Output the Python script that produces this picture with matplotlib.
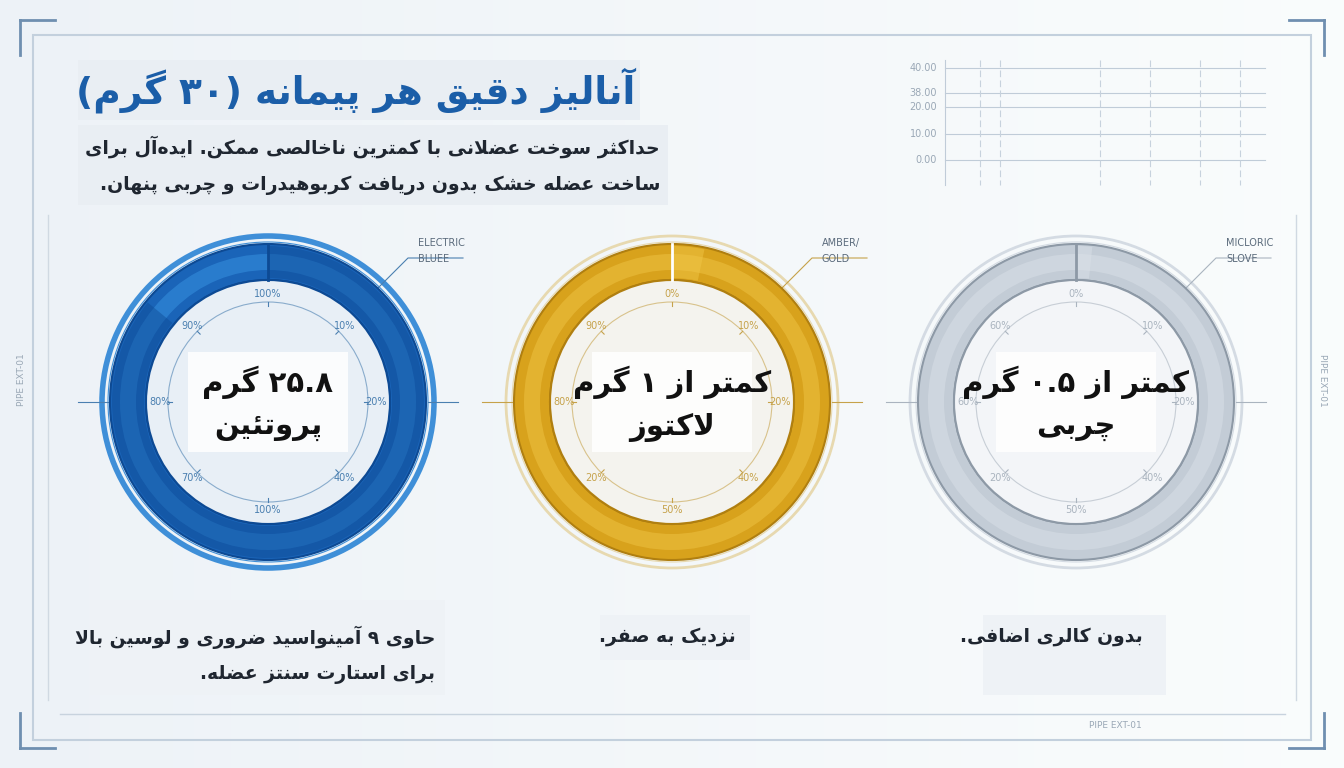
import matplotlib
matplotlib.use("Agg")
import matplotlib.pyplot as plt
from matplotlib.patches import Wedge, Circle, Rectangle
import numpy as np

# ---------------- data ----------------
title = "آنالیز دقیق هر پیمانه (۳۰ گرم)"
subtitle = ["حداکثر سوخت عضلانی با کمترین ناخالصی ممکن. ایده‌آل برای",
            "ساخت عضله خشک بدون دریافت کربوهیدرات و چربی پنهان."]
serving_g = 30.0
nutrients = ["پروتئین", "لاکتوز", "چربی"]
amounts_g = [25.8, 1.0, 0.5]
center_line1 = ["۲۵.۸ گرم", "کمتر از ۱ گرم", "کمتر از ۰.۵ گرم"]
captions = [["حاوی ۹ آمینواسید ضروری و لوسین بالا", "برای استارت سنتز عضله."],
            ["نزدیک به صفر."], ["بدون کالری اضافی."]]
legend_labels = [["ELECTRIC", "BLUEE"], ["AMBER/", "GOLD"], ["MICLORIC", "SLOVE"]]
tick_labels = [["100%", "10%", "20%", "40%", "100%", "70%", "80%", "90%"],
               ["0%", "10%", "20%", "40%", "50%", "20%", "80%", "90%"],
               ["0%", "10%", "20%", "40%", "50%", "20%", "60%", "60%"]]
mini_ticks = ["40.00", "38.00", "20.00", "10.00", "0.00"]

# ---------------- simple Persian shaping ----------------
F = {
 'ا': (0xFE8D, 0xFE8E, None, None), 'آ': (0xFE81, 0xFE82, None, None),
 'ب': (0xFE8F, 0xFE90, 0xFE91, 0xFE92), 'پ': (0xFB56, 0xFB57, 0xFB58, 0xFB59),
 'ت': (0xFE95, 0xFE96, 0xFE97, 0xFE98), 'ث': (0xFE99, 0xFE9A, 0xFE9B, 0xFE9C),
 'ج': (0xFE9D, 0xFE9E, 0xFE9F, 0xFEA0), 'چ': (0xFB7A, 0xFB7B, 0xFB7C, 0xFB7D),
 'ح': (0xFEA1, 0xFEA2, 0xFEA3, 0xFEA4), 'خ': (0xFEA5, 0xFEA6, 0xFEA7, 0xFEA8),
 'د': (0xFEA9, 0xFEAA, None, None), 'ذ': (0xFEAB, 0xFEAC, None, None),
 'ر': (0xFEAD, 0xFEAE, None, None), 'ز': (0xFEAF, 0xFEB0, None, None),
 'ژ': (0xFB8A, 0xFB8B, None, None),
 'س': (0xFEB1, 0xFEB2, 0xFEB3, 0xFEB4), 'ش': (0xFEB5, 0xFEB6, 0xFEB7, 0xFEB8),
 'ص': (0xFEB9, 0xFEBA, 0xFEBB, 0xFEBC), 'ض': (0xFEBD, 0xFEBE, 0xFEBF, 0xFEC0),
 'ط': (0xFEC1, 0xFEC2, 0xFEC3, 0xFEC4), 'ظ': (0xFEC5, 0xFEC6, 0xFEC7, 0xFEC8),
 'ع': (0xFEC9, 0xFECA, 0xFECB, 0xFECC), 'غ': (0xFECD, 0xFECE, 0xFECF, 0xFED0),
 'ف': (0xFED1, 0xFED2, 0xFED3, 0xFED4), 'ق': (0xFED5, 0xFED6, 0xFED7, 0xFED8),
 'ک': (0xFB8E, 0xFB8F, 0xFB90, 0xFB91), 'گ': (0xFB92, 0xFB93, 0xFB94, 0xFB95),
 'ل': (0xFEDD, 0xFEDE, 0xFEDF, 0xFEE0), 'م': (0xFEE1, 0xFEE2, 0xFEE3, 0xFEE4),
 'ن': (0xFEE5, 0xFEE6, 0xFEE7, 0xFEE8), 'و': (0xFEED, 0xFEEE, None, None),
 'ه': (0xFEE9, 0xFEEA, 0xFEEB, 0xFEEC), 'ی': (0xFBFC, 0xFBFD, 0xFBFE, 0xFBFF),
 'ئ': (0xFE89, 0xFE8A, 0xFE8B, 0xFE8C),
}

def shape(s):
    s = s.replace('\u200c', '\u0001')
    out = []
    n = len(s)
    i = 0
    while i < n:
        c = s[i]
        if c not in F:
            out.append('\u200b' if c == '\u0001' else c); i += 1; continue
        prev = s[i-1] if i > 0 else ''
        joins_prev = prev in F and F[prev][2] is not None
        if c == 'ل' and i + 1 < n and s[i+1] in ('ا', 'آ'):
            if s[i+1] == 'ا':
                out.append(chr(0xFEFC if joins_prev else 0xFEFB))
            else:
                out.append(chr(0xFEF6 if joins_prev else 0xFEF5))
            i += 2; continue
        nxt = s[i+1] if i + 1 < n else ''
        joins_next = F[c][2] is not None and nxt in F
        iso, fin, ini, med = F[c]
        if joins_prev and joins_next: g = med
        elif joins_prev: g = fin
        elif joins_next: g = ini
        else: g = iso
        out.append(chr(g)); i += 1
    shaped = ''.join(out).replace('\u200b', '')
    rev = shaped[::-1]
    mirror = {'(': ')', ')': '('}
    rev = ''.join(mirror.get(ch, ch) for ch in rev)
    res, run = [], []
    for ch in rev:
        if ch.isdigit() or ('\u06F0' <= ch <= '\u06F9') or (ch == '.' and run):
            run.append(ch)
        else:
            if run:
                res.extend(run[::-1]); run = []
            res.append(ch)
    if run: res.extend(run[::-1])
    return ''.join(res)

# ---------------- figure ----------------
plt.rcParams['font.family'] = ['DejaVu Sans']
W, H = 1344, 768
fig = plt.figure(figsize=(13.44, 7.68), dpi=100)
ax = fig.add_axes([0, 0, 1, 1])
ax.set_xlim(0, W); ax.set_ylim(0, H); ax.axis('off')
Y = lambda y: H - y

grad = np.linspace(0, 1, 256)
img = np.dstack([0.93 + 0.05*grad, 0.95 + 0.04*grad, 0.97 + 0.02*grad]).repeat(2, 0)
ax.imshow(img, extent=[0, W, 0, H], aspect='auto', zorder=0)

ax.add_patch(Rectangle((33, Y(740)), 1278, 705, fill=False, ec='#c3d0dd', lw=1.5, zorder=1))
for (x0, y0, dx, dy) in [(20, 20, 1, 1), (1324, 20, -1, 1), (20, 748, 1, -1), (1324, 748, -1, -1)]:
    ax.plot([x0, x0 + 35*dx], [Y(y0), Y(y0)], color='#6f8fb0', lw=2, zorder=2)
    ax.plot([x0, x0], [Y(y0), Y(y0 + 35*dy)], color='#6f8fb0', lw=2, zorder=2)
ax.plot([60, 1285], [Y(714), Y(714)], color='#c8d3de', lw=1, zorder=1)
ax.text(1115, Y(725), "PIPE EXT-01", fontsize=6.5, color='#9aa8b6', ha='center', va='center')
ax.text(22, Y(380), "PIPE EXT-01", fontsize=6.5, color='#9aa8b6', rotation=90, ha='center', va='center')
ax.text(1322, Y(380), "PIPE EXT-01", fontsize=6.5, color='#9aa8b6', rotation=270, ha='center', va='center')
for xx in (48, 1296):
    ax.plot([xx, xx], [Y(215), Y(700)], color='#d0d9e2', lw=1, zorder=1)

gx0, gx1 = 945, 1265
ys = [68, 93, 107, 134, 160]
for yv, lab in zip(ys, mini_ticks):
    ax.plot([gx0, gx1], [Y(yv), Y(yv)], color='#c0ccd8', lw=0.8)
    ax.text(gx0 - 8, Y(yv), lab, fontsize=7, color='#9aa8b6', ha='right', va='center')
for xv in [980, 1000, 1100, 1150, 1200, 1240]:
    ax.plot([xv, xv], [Y(60), Y(185)], color='#c7d2dd', lw=0.8, ls=(0, (6, 3)))
ax.plot([gx0, gx0], [Y(60), Y(185)], color='#c0ccd8', lw=0.8)

# title
ax.add_patch(Rectangle((78, Y(120)), 562, 60, fc='#e9eef3', ec='none', zorder=2))
ax.text(635, Y(90), shape(title), fontsize=27, fontweight='bold', color='#1b5ea8',
        ha='right', va='center', zorder=3)
ax.add_patch(Rectangle((78, Y(205)), 590, 80, fc='#e9eef3', ec='none', zorder=2))
for k, line in enumerate(subtitle):
    ax.text(660, Y(147 + 38*k), shape(line), fontsize=13.6, fontweight='bold', color='#1f2630',
            ha='right', va='center', zorder=3)

centers = [268, 672, 1076]
cy = Y(402)
styles = [
    dict(main='#1a64b8', light='#3c9be8', dark='#0d4a94', outer='#3f8fd8', inner='#e8eff6', tick='#4a7fb0'),
    dict(main='#d8a21c', light='#f2c84a', dark='#b07f10', outer='#e7d9b0', inner='#f4f3ee', tick='#c6a24a'),
    dict(main='#c3ccd6', light='#dde3ea', dark='#8d99a6', outer='#d4dbe3', inner='#f3f5f8', tick='#aab4bf'),
]
for i, cx in enumerate(centers):
    st = styles[i]
    frac = amounts_g[i] / serving_g
    ax.add_patch(Circle((cx, cy), 166, fill=False, ec=st['outer'], lw=2 if i else 4, zorder=2))
    ax.add_patch(Circle((cx, cy), 160, fill=False, ec=st['outer'], lw=0.8, zorder=2))
    ax.add_patch(Wedge((cx, cy), 158, 0, 360, width=36, fc=st['main'], ec=st['dark'], lw=1.5, zorder=3))
    ax.add_patch(Wedge((cx, cy), 148, 0, 360, width=16, fc=st['light'], ec='none', alpha=0.45, zorder=3))
    ax.add_patch(Wedge((cx, cy), 156, 90 - 360*frac, 90, width=32, fc=st['dark'] if i == 0 else st['light'],
                       ec='none', alpha=0.45, zorder=4))
    ax.plot([cx, cx], [cy + 122, cy + 158], color='white' if i == 1 else st['dark'], lw=2, zorder=5)
    ax.add_patch(Circle((cx, cy), 122, fc=st['inner'], ec=st['dark'], lw=1.5, zorder=3))
    ax.add_patch(Circle((cx, cy), 100, fill=False, ec=st['tick'], lw=0.8, alpha=0.6, zorder=3))
    for a, lab in zip([90, 45, 0, -45, -90, -135, 180, 135], tick_labels[i]):
        r = a * np.pi / 180
        ax.text(cx + 108*np.cos(r), cy + 108*np.sin(r), lab, fontsize=7, color=st['tick'],
                ha='center', va='center', zorder=4)
        ax.plot([cx + 96*np.cos(r), cx + 100*np.cos(r)], [cy + 96*np.sin(r), cy + 100*np.sin(r)],
                color=st['tick'], lw=0.8, zorder=4)
    ax.plot([cx - 190, cx - 160], [cy, cy], color=st['tick'], lw=0.8, zorder=2)
    ax.plot([cx + 160, cx + 190], [cy, cy], color=st['tick'], lw=0.8, zorder=2)
    ax.add_patch(Rectangle((cx - 80, cy - 50), 160, 100, fc='white', ec='none', alpha=0.85, zorder=5))
    ax.text(cx, cy + 20, shape(center_line1[i]), fontsize=21, fontweight='bold', color='#111111',
            ha='center', va='center', zorder=6)
    ax.text(cx, cy - 25, shape(nutrients[i]), fontsize=21, fontweight='bold', color='#111111',
            ha='center', va='center', zorder=6)
    ax.plot([cx + 110, cx + 140, cx + 195], [Y(288), Y(258), Y(258)], color=st['tick'], lw=0.8, zorder=2)
    ax.text(cx + 150, Y(243), legend_labels[i][0], fontsize=7, color='#5b6b7c', va='center', zorder=4)
    ax.text(cx + 150, Y(259), legend_labels[i][1], fontsize=7, color='#5b6b7c', va='center', zorder=4)

cap_right = [435, 736, 1143]
boxes = [(90, 600, 355, 95), (600, 615, 150, 45), (983, 615, 183, 80)]
for i, cap in enumerate(captions):
    bx, by, bw, bh = boxes[i]
    ax.add_patch(Rectangle((bx, Y(by + bh)), bw, bh, fc='#eef2f6', ec='none', zorder=2))
    for k, line in enumerate(cap):
        ax.text(cap_right[i], Y(637 + 37*k), shape(line), fontsize=13.5, fontweight='bold', color='#1f2630',
                ha='right', va='center', zorder=3)

fig.savefig("out.png", dpi=100)
